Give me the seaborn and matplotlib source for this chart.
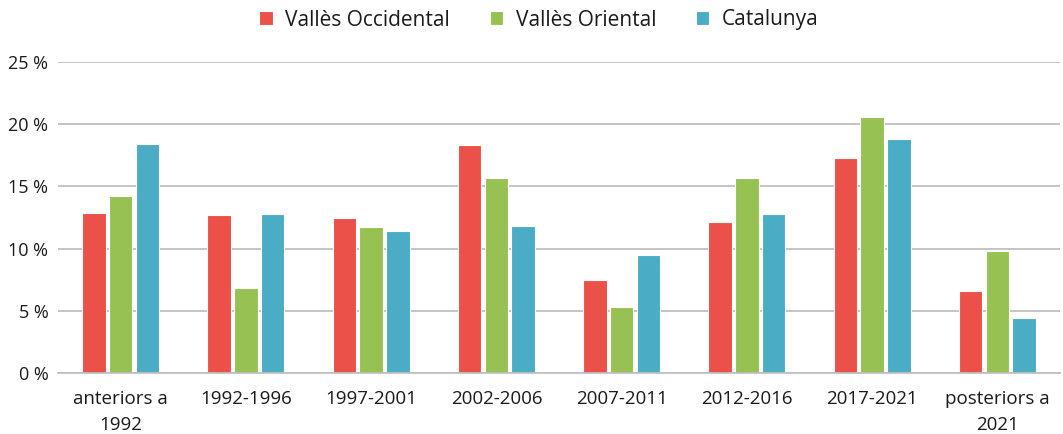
import matplotlib
matplotlib.use("Agg")
import matplotlib.pyplot as plt
import seaborn as sns
import pandas as pd
from matplotlib.ticker import FuncFormatter

categories = ["anteriors a\n1992", "1992-1996", "1997-2001", "2002-2006",
              "2007-2011", "2012-2016", "2017-2021", "posteriors a\n2021"]
series_names = ["Vallès Occidental", "Vallès Oriental", "Catalunya"]
valles_occidental = [12.9, 12.7, 12.5, 18.3, 7.5, 12.1, 17.3, 6.6]
valles_oriental = [14.2, 6.8, 11.75, 15.7, 5.3, 15.7, 20.6, 9.8]
catalunya = [18.4, 12.8, 11.4, 11.8, 9.45, 12.8, 18.8, 4.4]
colors = ["#EB5148", "#97C153", "#4BACC6"]
y_ticks = [0, 5, 10, 15, 20, 25]

rows = []
for name, vals in zip(series_names, [valles_occidental, valles_oriental, catalunya]):
    for c, v in zip(categories, vals):
        rows.append({"cat": c, "serie": name, "val": v})
df = pd.DataFrame(rows)

sns.set_theme(style="white")
plt.rcParams['font.family'] = ['Open Sans', 'DejaVu Sans']

fig = plt.figure(figsize=(10.63, 4.34), dpi=100)
ax = fig.add_axes([58/1063, 1-373/434, 1-58/1063-3/1063, (373-62)/434])

sns.barplot(data=df, x="cat", y="val", hue="serie", order=categories,
            hue_order=series_names, palette=colors, saturation=1, width=0.64, gap=0.12,
            edgecolor="white", linewidth=0.8, ax=ax, legend=True)

ax.set_ylim(0, 25)
ax.set_xlim(-0.5, len(categories) - 0.5)
ax.set_yticks(y_ticks)
ax.yaxis.set_major_formatter(FuncFormatter(lambda v, p: f"{int(v)} %"))
ax.grid(axis="y", color="#BFBFBF", linewidth=1.3)
ax.set_axisbelow(True)
for s in ["top", "right", "left"]:
    ax.spines[s].set_visible(False)
ax.spines["bottom"].set_color("#BFBFBF")
ax.spines["bottom"].set_linewidth(1.3)
ax.tick_params(axis="both", length=0, colors="#1a1a1a")
ax.tick_params(axis="y", pad=7, labelsize=13)
ax.tick_params(axis="x", pad=12, labelsize=13.5)
for lbl in ax.get_xticklabels():
    lbl.set_linespacing(1.6)
ax.set_xlabel("")
ax.set_ylabel("")

handles, labels = ax.get_legend_handles_labels()
ax.legend_.remove()
fig.legend(handles, labels, loc="center", bbox_to_anchor=(539/1063, 1-20/434),
           ncol=3, frameon=False, fontsize=15, handlelength=0.65, handleheight=0.65,
           handletextpad=0.6, columnspacing=1.9, labelcolor="#1a1a1a")

fig.savefig("out.png", dpi=100)
